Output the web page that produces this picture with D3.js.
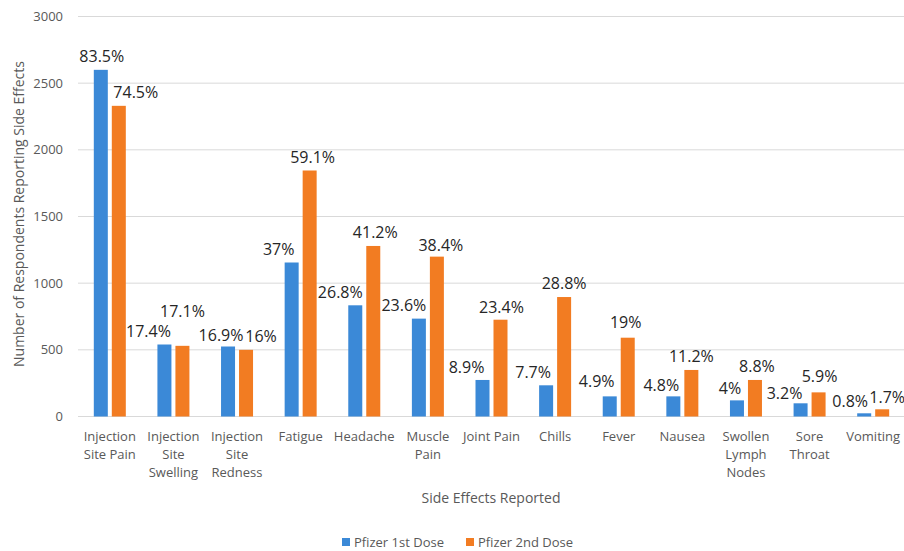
<!DOCTYPE html>
<html>
<head>
<meta charset="utf-8">
<script src="https://cdn.jsdelivr.net/npm/d3@7"></script>
<style>
  body { margin: 0; background: #fff; }
  svg { display: block; font-family: "Open Sans", sans-serif; }
</style>
</head>
<body>
<svg id="chart" width="904" height="551"></svg>
<script>
// data
var categories = [
    ["Injection", "Site Pain"], ["Injection", "Site", "Swelling"], ["Injection", "Site", "Redness"],
    ["Fatigue"], ["Headache"], ["Muscle", "Pain"], ["Joint Pain"], ["Chills"], ["Fever"],
    ["Nausea"], ["Swollen", "Lymph", "Nodes"], ["Sore", "Throat"], ["Vomiting"]
];
var seriesNames = ["Pfizer 1st Dose", "Pfizer 2nd Dose"];
var firstDose  = [2600, 540, 525, 1155, 834, 734, 274, 234, 151, 151, 121, 99, 24];
var secondDose = [2330, 530, 500, 1845, 1279, 1199, 726, 896, 591, 349, 274, 181, 54];
var firstPct  = ["83.5%", "17.4%", "16.9%", "37%", "26.8%", "23.6%", "8.9%", "7.7%", "4.9%", "4.8%", "4%", "3.2%", "0.8%"];
var secondPct = ["74.5%", "17.1%", "16%", "59.1%", "41.2%", "38.4%", "23.4%", "28.8%", "19%", "11.2%", "8.8%", "5.9%", "1.7%"];
var yTicks = [0, 500, 1000, 1500, 2000, 2500, 3000];

var colors = ["#3b89d7", "#f27c22"];

var svg = d3.select("#chart");
var keys = categories.map(function(c) { return c.join(" "); });

var x0 = d3.scaleBand().domain(keys).range([78, 905]).padding(0);
var x1 = d3.scaleBand().domain([0, 1]).range([-16, 16]).paddingInner(0.222).paddingOuter(0);
var y = d3.scaleLinear().domain([0, 3000]).range([416.5, 16.5]);

// gridlines
svg.append("g").selectAll("line").data(yTicks).join("line")
    .attr("x1", 78).attr("x2", 904)
    .attr("y1", function(d) { return y(d); }).attr("y2", function(d) { return y(d); })
    .attr("stroke", "#d9d9d9").attr("stroke-width", 1);

// y tick labels
svg.append("g").selectAll("text").data(yTicks).join("text")
    .attr("x", 63).attr("y", function(d) { return y(d); })
    .attr("dy", "0.35em").attr("text-anchor", "end")
    .attr("font-size", 13).attr("fill", "#595959")
    .text(function(d) { return d; });

// y axis title
svg.append("text")
    .attr("transform", "translate(19,214) rotate(-90)")
    .attr("text-anchor", "middle").attr("dy", "0.35em")
    .attr("font-size", 14).attr("fill", "#595959")
    .text("Number of Respondents Reporting Side Effects");

var series = [firstDose, secondDose];
var pcts = [firstPct, secondPct];

// hand-placed label shifts like in the original (dx, dy)
var nudge = [
    [[1,0],[-16,0],[-7,2],[-13,0],[-15,0],[-15,0],[-16,0],[-13,0],[-13,-2],[-12,2],[-7,1],[-16,3],[-14,1]],
    [[17,0],[0,-21],[15,0],[3,0],[2,-1],[4,2],[1,1],[0,-1],[-2,-2],[0,-1],[2,-1],[1,-3],[5,1]]
];

// bars first, labels on top
series.forEach(function(vals, s) {
    svg.append("g").selectAll("rect").data(vals).join("rect")
        .attr("x", function(d, i) { return x0(keys[i]) + x0.bandwidth() / 2 + x1(s); })
        .attr("width", x1.bandwidth())
        .attr("y", function(d) { return y(d); })
        .attr("height", function(d) { return y(0) - y(d); })
        .attr("fill", colors[s]);
});
series.forEach(function(vals, s) {
    svg.append("g").selectAll("text").data(vals).join("text")
        .attr("x", function(d, i) { return x0(keys[i]) + x0.bandwidth() / 2 + x1(s) + x1.bandwidth() / 2 + nudge[s][i][0]; })
        .attr("y", function(d, i) { return y(d) - 13 + nudge[s][i][1]; })
        .attr("dy", "0.35em").attr("text-anchor", "middle")
        .attr("font-size", 16).attr("fill", "#262626")
        .text(function(d, i) { return pcts[s][i]; });
});

// category labels
var cat = svg.append("g").selectAll("text").data(categories).join("text")
    .attr("x", function(d, i) { return x0(keys[i]) + x0.bandwidth() / 2; })
    .attr("y", 436).attr("dy", "0.35em")
    .attr("text-anchor", "middle").attr("font-size", 13).attr("fill", "#595959");
cat.selectAll("tspan").data(function(d) { return d; }).join("tspan")
    .attr("x", function() { return d3.select(this.parentNode).attr("x"); })
    .attr("dy", function(d, i) { return i === 0 ? "0.35em" : 18.3; })
    .text(function(d) { return d; });

// x axis title
svg.append("text")
    .attr("x", 491).attr("y", 498).attr("dy", "0.35em")
    .attr("text-anchor", "middle").attr("font-size", 14).attr("fill", "#595959")
    .text("Side Effects Reported");

// legend
var legX = [342, 466];
var leg = svg.append("g").selectAll("g").data(seriesNames).join("g")
    .attr("transform", function(d, i) { return "translate(" + legX[i] + ",542)"; });
leg.append("rect").attr("x", 0).attr("y", -4).attr("width", 8).attr("height", 8)
    .attr("fill", function(d, i) { return colors[i]; });
leg.append("text").attr("x", 12).attr("dy", "0.35em")
    .attr("font-size", 13).attr("fill", "#595959")
    .text(function(d) { return d; });
</script>
</body>
</html>
